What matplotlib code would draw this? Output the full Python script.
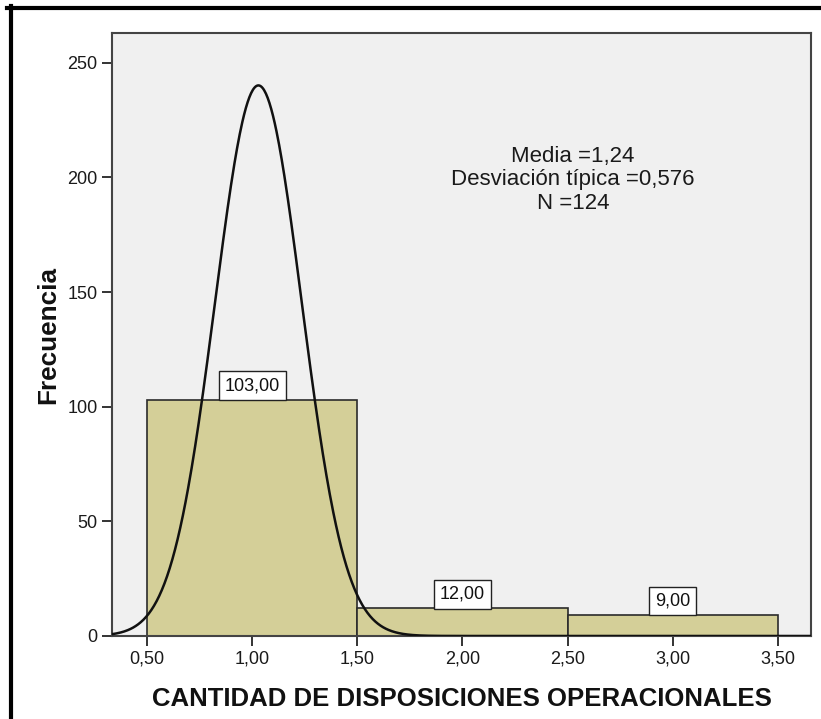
import numpy as np
import matplotlib
matplotlib.use("Agg")
import matplotlib.pyplot as plt
from matplotlib.lines import Line2D

plt.rcParams['font.family'] = ['Liberation Sans', 'DejaVu Sans']

# Histogram data
bin_edges = [0.5, 1.5, 2.5, 3.5]
counts = [103, 12, 9]
count_labels = ["103,00", "12,00", "9,00"]

# Normal curve as drawn on the chart
curve_mean = 1.03
curve_sd = 0.206
n_total = 124
bin_width = 1.0

stats_lines = ["Media =1,24", "Desviación típica =0,576", "N =124"]
x_ticks = [0.5, 1.0, 1.5, 2.0, 2.5, 3.0, 3.5]
x_tick_labels = ["0,50", "1,00", "1,50", "2,00", "2,50", "3,00", "3,50"]
y_ticks = [0, 50, 100, 150, 200, 250]

W, H = 821, 719
fig = plt.figure(figsize=(W / 100, H / 100), dpi=100)
fig.patch.set_facecolor("white")

ax = fig.add_axes([112 / W, 1 - 636 / H, (811 - 112) / W, (636 - 33) / H])
ax.set_facecolor("#f0f0f0")
ax.set_xlim(0.334, 3.657)
ax.set_ylim(0, 263)

bar_color = "#d4cf98"
lefts = bin_edges[:-1]
widths = np.diff(bin_edges)
ax.bar(lefts, counts, width=widths, align="edge", color=bar_color,
       edgecolor="#2b2b2b", linewidth=1.2, zorder=2)

xs = np.linspace(0.334, 3.657, 800)
ys = n_total * bin_width / (curve_sd * np.sqrt(2 * np.pi)) * np.exp(-0.5 * ((xs - curve_mean) / curve_sd) ** 2)
ax.plot(xs, ys, color="#111111", linewidth=1.8, zorder=3)

# Count labels in boxes resting on top of each bar
for left, w, c, lab in zip(lefts, widths, counts, count_labels):
    ax.annotate(lab, xy=(left + w / 2, c), xytext=(0, 4.2), textcoords="offset points",
                ha="center", va="bottom", fontsize=13, color="#111111", zorder=4,
                bbox=dict(boxstyle="square,pad=0.33", facecolor="white",
                          edgecolor="#222222", linewidth=1.0))

# Summary statistics
for i, line in enumerate(stats_lines):
    ax.text(2.526, 206.9 - i * 10.4, line, ha="center", va="baseline",
            fontsize=16, color="#1a1a1a", zorder=4)

ax.set_xticks(x_ticks)
ax.set_xticklabels(x_tick_labels)
ax.set_yticks(y_ticks)
ax.tick_params(axis="both", direction="out", length=7.5, width=1.4,
               color="#333333", labelsize=13, labelcolor="#1a1a1a", pad=3)
for s in ax.spines.values():
    s.set_color("#444444")
    s.set_linewidth(1.5)

ax.set_xlabel("CANTIDAD DE DISPOSICIONES OPERACIONALES", fontsize=18.5,
              fontweight="bold", color="#111111", labelpad=14)
ax.set_ylabel("Frecuencia", fontsize=18.8, fontweight="bold", color="#111111",
              labelpad=5)

# Outer frame lines (top and left)
fig.add_artist(Line2D([7 / W, 1.0], [1 - 8 / H, 1 - 8 / H], transform=fig.transFigure,
                      color="black", linewidth=3.0))
fig.add_artist(Line2D([10.5 / W, 10.5 / W], [0.0, 1 - 6 / H], transform=fig.transFigure,
                      color="black", linewidth=3.0))

fig.savefig("out.png", dpi=100, facecolor="white")
